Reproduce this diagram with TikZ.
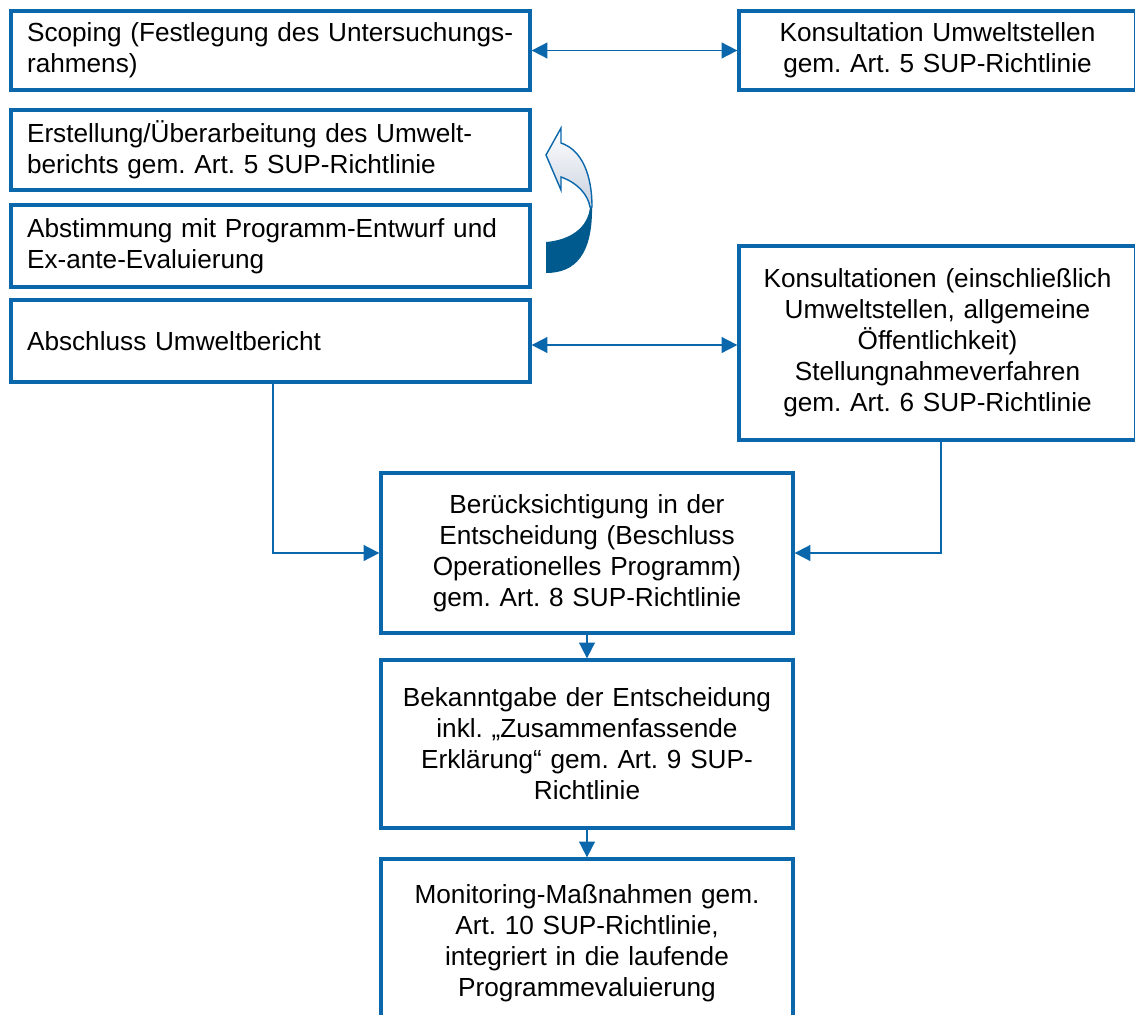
\documentclass[tikz,border=0pt]{standalone}
\usepackage{fontspec}
\setmainfont{Liberation Sans}
\frenchspacing
\usetikzlibrary{arrows.meta,calc}
\definecolor{supblue}{HTML}{0A67AB}
\definecolor{supdark}{HTML}{005A8E}
\definecolor{supgrey}{HTML}{C9D1DF}
\tikzstyle{box}=[draw=supblue, line width=1.9pt, inner xsep=0.32cm, inner ysep=0pt, font=\fontsize{14.9}{17.6}\selectfont]
\tikzstyle{leftbox}=[box, minimum width=10.38cm, text width=9.74cm, align=left]
\tikzstyle{midbox}=[box, minimum width=8.24cm, text width=7.6cm, align=center]
\tikzstyle{rightbox}=[box, minimum width=7.94cm, text width=7.3cm, align=center]
\tikzstyle{link}=[draw=supblue, line width=1pt, -{Triangle[length=9pt,width=9pt]}]
\tikzstyle{duallink}=[link, {Triangle[length=9pt,width=9pt]}-{Triangle[length=9pt,width=9pt]}]

\begin{document}
\begin{tikzpicture}[x=0.02cm, y=-0.02cm]
\useasboundingbox (0,0) rectangle (1135,1014);
\clip (0,0) rectangle (1135,1014);
	% left column
	\node[leftbox, minimum height=1.58cm] (scoping) at (270.5,50.5) {Scoping (Festlegung des Untersuchungs-\\rahmens)};
	\node[leftbox, minimum height=1.6cm] (bericht) at (270.5,150) {Erstellung/Überarbeitung des Umwelt-\\berichts gem. Art. 5 SUP-Richtlinie};
	\node[leftbox, minimum height=1.64cm] (abstimm) at (270.5,246) {Abstimmung mit Programm-Entwurf und\\Ex-ante-Evaluierung};
	\node[leftbox, minimum height=1.64cm] (abschluss) at (270.5,341) {Abschluss Umweltbericht};
	% right column
	\node[rightbox, minimum height=1.58cm] (konsult) at (937.5,50.5) {Konsultation Umweltstellen\\gem. Art. 5 SUP-Richtlinie};
	\node[rightbox, minimum height=3.88cm] (konsultationen) at (937.5,343) {Konsultationen (einschließlich\\Umweltstellen, allgemeine\\Öffentlichkeit)\\Stellungnahmeverfahren\\gem. Art. 6 SUP-Richtlinie};
	% middle column
	\node[midbox, minimum height=3.2cm] (entscheid) at (587,553) {Berücksichtigung in der\\Entscheidung (Beschluss\\Operationelles Programm)\\gem. Art. 8 SUP-Richtlinie};
	\node[midbox, minimum height=3.36cm] (bekannt) at (587,744) {Bekanntgabe der Entscheidung\\inkl. „Zusammenfassende\\Erklärung“ gem. Art. 9 SUP-\\Richtlinie};
	\node[midbox, minimum height=3.36cm] (monitor) at (587,943) {Monitoring-Maßnahmen gem.\\Art. 10 SUP-Richtlinie,\\integriert in die laufende\\Programmevaluierung};
	% connectors
	\draw[duallink] (scoping.east) -- (scoping.east -| konsult.west);
	\draw[duallink] ([yshift=-0.08cm]abschluss.east) -- ([yshift=-0.08cm]abschluss.east -| konsultationen.west);
	\draw[link] ([xshift=0.05cm]abschluss.south) |- (entscheid.west);
	\draw[link] ([xshift=0.07cm]konsultationen.south) |- (entscheid.east);
	\draw[link] (entscheid) -- (bekannt);
	\draw[link] (bekannt) -- (monitor);
	% curled arrow between the two loop steps
	\coordinate (curltip) at (546,155);
	\fill[supdark] (592,205) .. controls (593,255) and (575,273) .. (546,273) -- (546,242) .. controls (570,240) and (588,228) .. (590,207) -- cycle;
	\draw[supblue, line width=0.8pt, top color=white, bottom color=supgrey] (curltip) -- (561,128) -- (561,143) .. controls (582,150) and (592,175) .. (592,207) -- (590,207) .. controls (588,195) and (578,183) .. (561,177) -- (561,190) -- cycle;
\end{tikzpicture}
\end{document}
